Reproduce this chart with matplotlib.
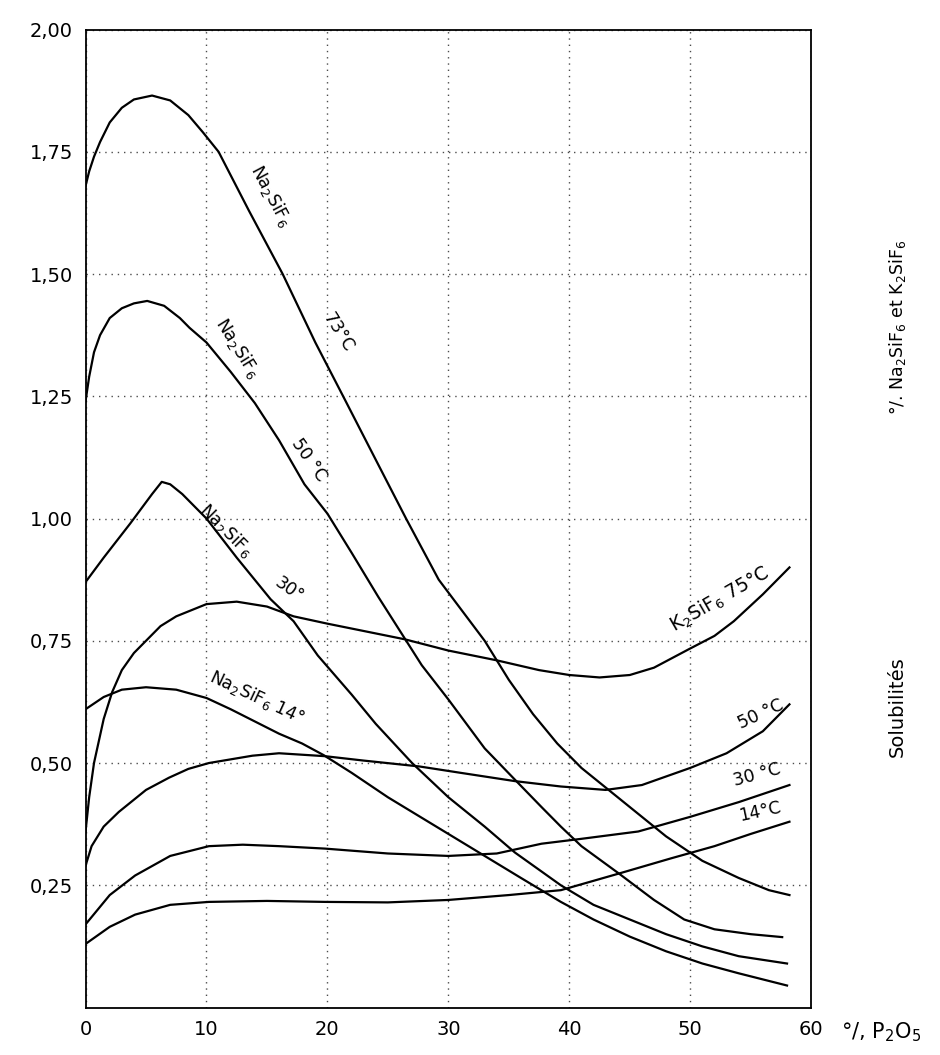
import matplotlib
matplotlib.use("Agg")
import matplotlib.pyplot as plt

# --- data (x = % P2O5, y = solubility %) ---
na73_x = [0, 0.3, 0.7, 1.2, 2, 3, 4, 5.5, 7, 8.5, 9.7, 11, 13.5, 16.3, 19, 21.3, 24, 26.5, 29.2, 33, 35, 37, 39, 41, 43, 45, 48, 51, 54, 56.5, 58.2]
na73_y = [1.68, 1.71, 1.74, 1.77, 1.81, 1.84, 1.857, 1.865, 1.855, 1.825, 1.79, 1.75, 1.63, 1.50, 1.36, 1.25, 1.12, 1.00, 0.875, 0.75, 0.67, 0.60, 0.54, 0.49, 0.45, 0.41, 0.35, 0.30, 0.265, 0.24, 0.23]

na50_x = [0, 0.3, 0.7, 1.2, 2, 3, 4, 5.1, 6.5, 7.8, 8.6, 10, 12, 14, 16, 18.1, 20, 22, 24.2, 26, 27.8, 30, 33, 35.5, 37.7, 39.3, 41, 44.1, 47, 49.5, 52, 55, 57.6]
na50_y = [1.24, 1.29, 1.34, 1.375, 1.41, 1.43, 1.44, 1.445, 1.435, 1.41, 1.39, 1.36, 1.30, 1.236, 1.16, 1.07, 1.01, 0.93, 0.84, 0.77, 0.70, 0.63, 0.53, 0.466, 0.41, 0.37, 0.33, 0.274, 0.22, 0.18, 0.16, 0.15, 0.144]

na30_x = [0, 1.5, 3.7, 5.5, 6.3, 7, 8, 10, 12.5, 15.3, 17.2, 19.2, 22, 24, 27, 30, 33, 35.5, 39.3, 42, 45, 48, 51, 54, 58]
na30_y = [0.87, 0.92, 0.99, 1.05, 1.075, 1.07, 1.05, 1.00, 0.92, 0.835, 0.79, 0.72, 0.64, 0.58, 0.50, 0.43, 0.37, 0.317, 0.25, 0.21, 0.18, 0.15, 0.125, 0.105, 0.09]

na14_x = [0, 1.5, 3, 5, 7.5, 10, 12, 14, 16, 17.9, 19.7, 22, 25, 28, 30, 33, 36, 39.3, 42, 45, 48, 51, 54, 58]
na14_y = [0.61, 0.635, 0.65, 0.655, 0.65, 0.633, 0.61, 0.585, 0.56, 0.54, 0.516, 0.48, 0.43, 0.385, 0.355, 0.31, 0.265, 0.216, 0.18, 0.145, 0.115, 0.09, 0.07, 0.045]

k75_x = [0, 0.3, 0.7, 1.5, 2.2, 3, 4, 5, 6.2, 7.5, 10, 12.5, 15, 17.2, 20, 23, 26.4, 30, 34, 37.5, 40, 42.5, 45, 47, 49.9, 52, 53.6, 56, 58.2]
k75_y = [0.36, 0.43, 0.50, 0.59, 0.645, 0.69, 0.725, 0.75, 0.78, 0.80, 0.825, 0.83, 0.82, 0.80, 0.785, 0.77, 0.753, 0.73, 0.71, 0.69, 0.68, 0.675, 0.68, 0.695, 0.733, 0.76, 0.79, 0.845, 0.90]

k50_x = [0, 0.5, 1.5, 2.75, 5, 6.9, 8.5, 10.2, 13.8, 16, 19.8, 23, 27.6, 31, 35.5, 39.3, 43, 46, 50, 53, 56, 58.2]
k50_y = [0.29, 0.33, 0.37, 0.40, 0.445, 0.47, 0.488, 0.50, 0.515, 0.52, 0.514, 0.505, 0.493, 0.48, 0.463, 0.452, 0.445, 0.455, 0.49, 0.52, 0.565, 0.62]

k30_x = [0, 1, 2, 4.1, 7, 10.2, 13, 16, 19.8, 25, 30, 34, 37.7, 41, 45.7, 50, 54, 58.2]
k30_y = [0.17, 0.20, 0.23, 0.27, 0.31, 0.33, 0.333, 0.33, 0.325, 0.315, 0.31, 0.315, 0.335, 0.345, 0.36, 0.39, 0.42, 0.455]

k14_x = [0, 2, 4.1, 7, 10.2, 15, 19.8, 25, 30, 35, 39.3, 44.1, 48.4, 52, 55, 58.2]
k14_y = [0.13, 0.165, 0.19, 0.21, 0.216, 0.218, 0.216, 0.215, 0.22, 0.23, 0.24, 0.274, 0.305, 0.33, 0.355, 0.38]

x_ticks = [0, 10, 20, 30, 40, 50, 60]
y_ticks = [0.25, 0.50, 0.75, 1.00, 1.25, 1.50, 1.75, 2.00]
y_ticklabels = ["0,25", "0,50", "0,75", "1,00", "1,25", "1,50", "1,75", "2,00"]

NA = r"Na$_2$SiF$_6$"
KS = r"K$_2$SiF$_6$"

fig = plt.figure(figsize=(9.4, 10.55), dpi=100)
ax = fig.add_axes([0.091, 0.045, 0.772, 0.927])

for xs, ys in [(na73_x, na73_y), (na50_x, na50_y), (na30_x, na30_y), (na14_x, na14_y),
               (k75_x, k75_y), (k50_x, k50_y), (k30_x, k30_y), (k14_x, k14_y)]:
    ax.plot(xs, ys, color="black", lw=1.6, solid_joinstyle="round")

ax.set_xlim(0, 60)
ax.set_ylim(0, 2.0)
ax.set_xticks(x_ticks)
ax.set_yticks(y_ticks)
ax.set_yticklabels(y_ticklabels)
ax.tick_params(length=0, labelsize=14, pad=9)
ax.grid(True, ls=(0, (1, 3.5)), color="black", lw=1.0, alpha=0.7)
for s in ax.spines.values():
    s.set_linewidth(1.3)

# labels written along the curves
lab = dict(fontsize=12.5, color="black", ha="center", va="center", rotation_mode="anchor")
ax.text(15.3, 1.66, NA, rotation=-62, **lab)
ax.text(20.9, 1.38, "73°C", rotation=-58, **lab)
ax.text(12.6, 1.35, NA, rotation=-58, **lab)
ax.text(18.5, 1.12, "50 °C", rotation=-55, **lab)
ax.text(11.6, 0.975, NA, rotation=-45, **lab)
ax.text(16.8, 0.855, "30°", rotation=-35, **lab)
ax.text(14.2, 0.635, NA + " 14°", rotation=-25, **lab)
ax.text(52.4, 0.835, KS + " 75°C", rotation=30, fontsize=13.5, color="black",
        ha="center", va="center", rotation_mode="anchor")
ax.text(55.8, 0.60, "50 °C", rotation=25, **lab)
ax.text(55.5, 0.475, "30 °C", rotation=15, **lab)
ax.text(55.8, 0.40, "14°C", rotation=12, **lab)

# axis titles (right side and after the last x tick)
fig.text(0.955, 0.69, "°/. " + NA + " et " + KS, rotation=90, fontsize=12.5,
         ha="center", va="center")
fig.text(0.955, 0.33, "Solubilités", rotation=90, fontsize=14,
         ha="center", va="center")
fig.text(0.937, 0.022, "°/, P$_2$O$_5$", fontsize=15, ha="center", va="center")

fig.savefig("out.png", dpi=100, facecolor="white")
